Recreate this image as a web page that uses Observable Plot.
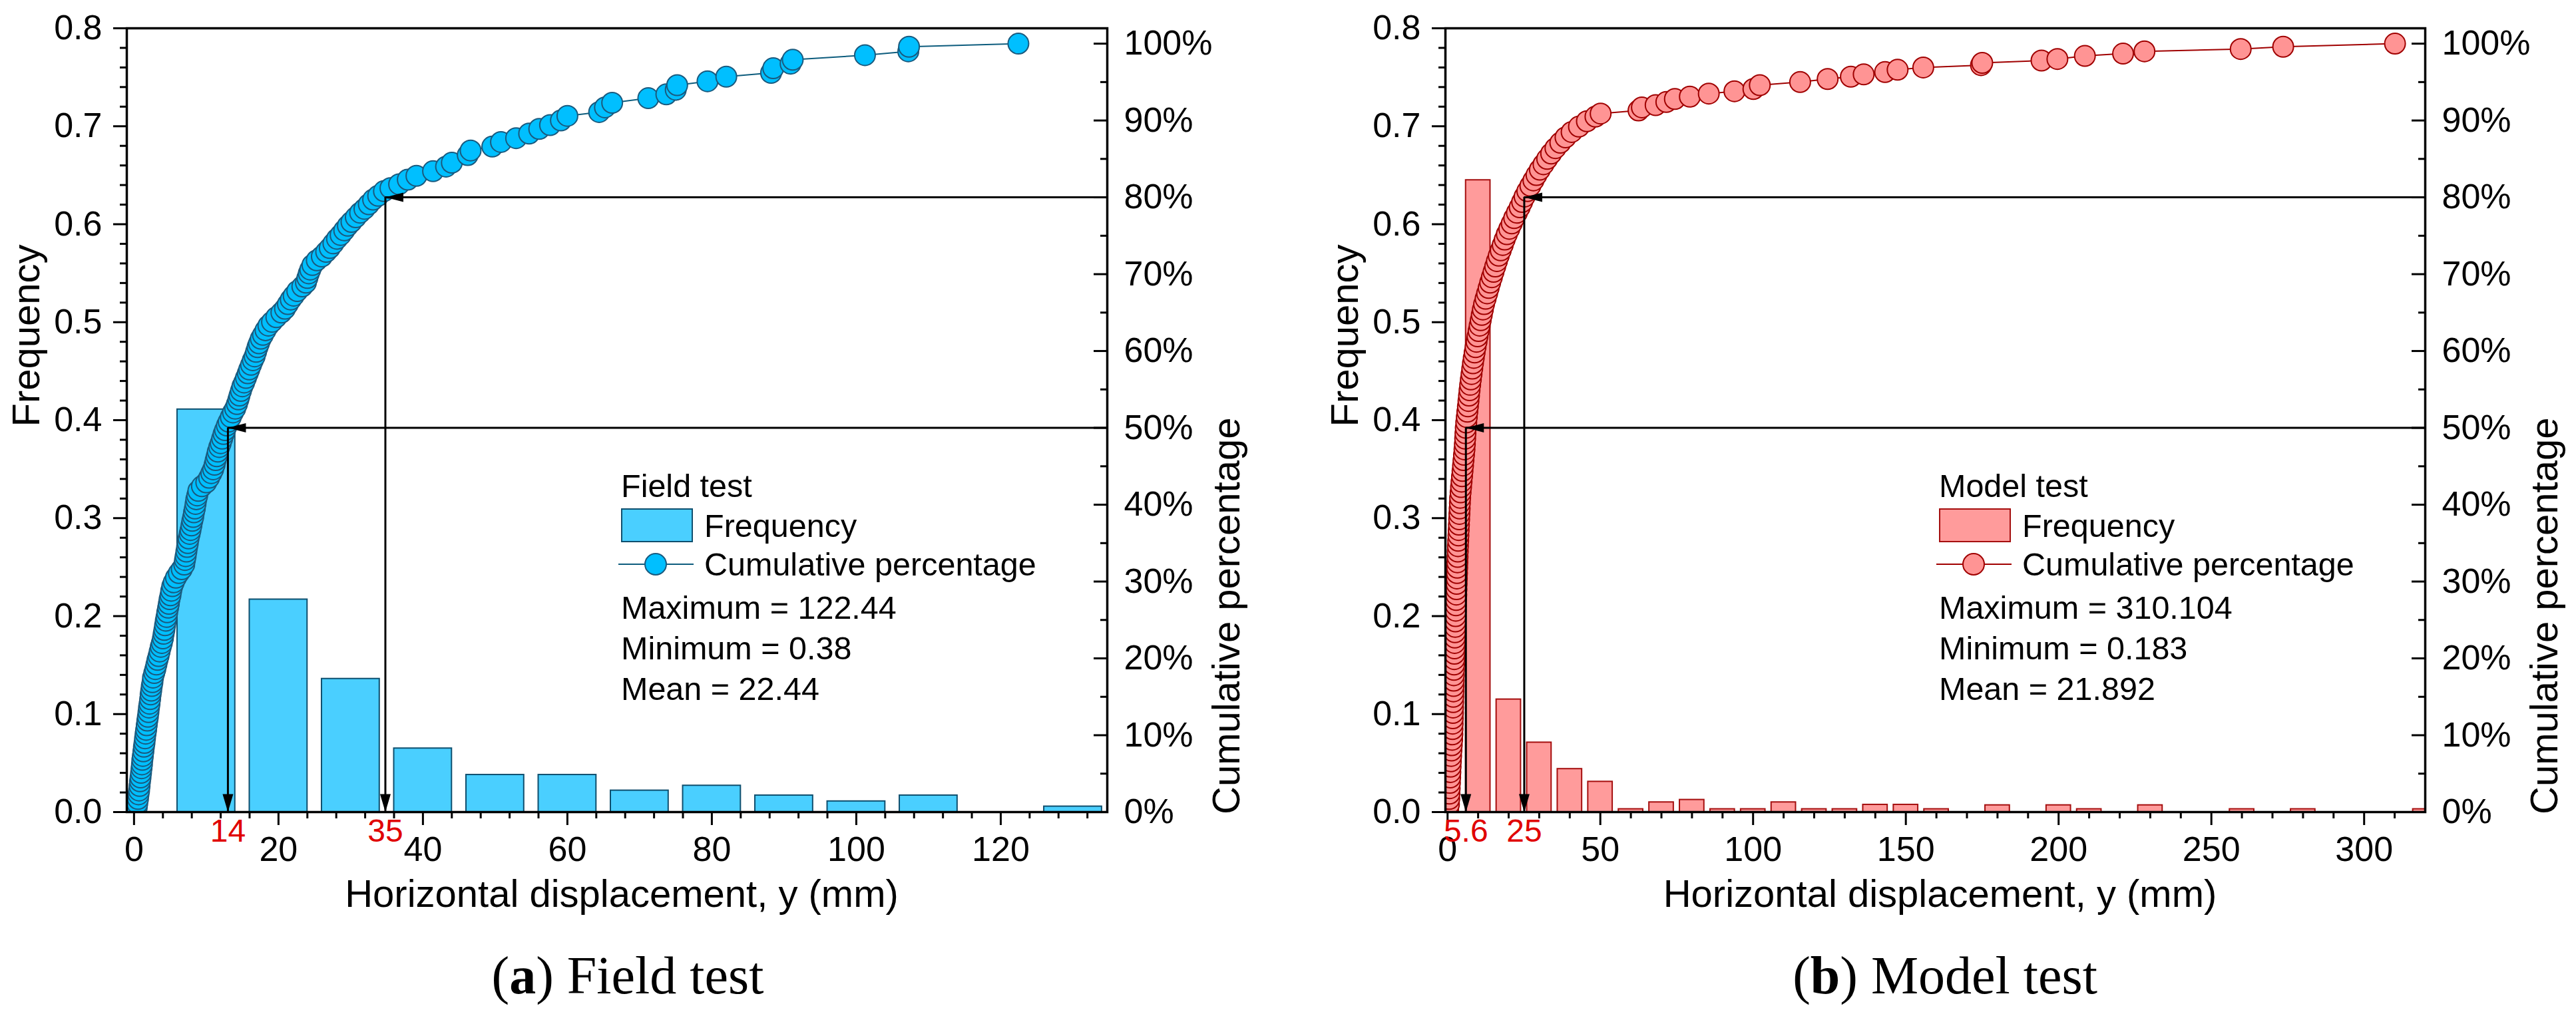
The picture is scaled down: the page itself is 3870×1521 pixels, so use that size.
<!DOCTYPE html>
<html><head><meta charset="utf-8">
<script src="https://cdn.jsdelivr.net/npm/d3@7"></script>
<script src="https://cdn.jsdelivr.net/npm/@observablehq/plot@0.6"></script>
<style>
body{margin:0;background:#fff;}
#root{position:relative;width:3870px;height:1521px;overflow:hidden;font-family:"Liberation Sans",Arial,Helvetica,sans-serif;background:#fff;}
.layer{position:absolute;top:0;}
.layer svg{max-width:none;display:block;}
.lg{position:absolute;font-size:48.5px;line-height:48.5px;white-space:nowrap;color:#000;}
.cap{position:absolute;font-family:"Liberation Serif","Times New Roman",serif;font-size:80px;line-height:80px;white-space:nowrap;transform:translateX(-50%);color:#000;}
</style></head><body><div id="root"></div>
<script>
// ---------------- data ----------------
const freqTicks = [0, 0.1, 0.2, 0.3, 0.4, 0.5, 0.6, 0.7, 0.8];
const pctTicks = [0, 10, 20, 30, 40, 50, 60, 70, 80, 90, 100];
const fieldXTicks = [0, 20, 40, 60, 80, 100, 120];
const modelXTicks = [0, 50, 100, 150, 200, 250, 300];

// (a) Field test
const fieldBinCenter = [10, 20, 30, 40, 50, 60, 70, 80, 90, 100, 110, 130];
const fieldFrequency = [0.411, 0.217, 0.136, 0.065, 0.038, 0.038, 0.022, 0.027, 0.017, 0.011, 0.017, 0.0057];
const fieldDisp = [0.38,0.45,0.55,0.62,0.70,0.77,0.83,0.90,0.97,1.04,
1.10,1.15,1.22,1.30,1.37,1.45,1.52,1.60,1.68,1.76,
1.84,1.92,2.00,2.07,2.15,2.23,2.30,2.38,2.46,2.55,
2.63,2.80,2.95,3.10,3.25,3.40,3.55,3.70,3.85,4.00,
4.10,4.20,4.30,4.40,4.50,4.60,4.72,4.82,4.92,5.05,
5.15,5.30,5.50,5.80,6.20,6.60,6.95,7.05,7.15,7.25,
7.35,7.45,7.55,7.70,7.82,7.95,8.07,8.20,8.30,8.42,
8.52,8.62,8.75,8.90,9.40,10.00,10.40,10.70,10.95,11.15,
11.30,11.45,11.60,11.80,12.00,12.20,12.40,12.60,12.85,13.10,
13.40,13.70,14.00,14.25,14.45,14.60,14.80,15.00,15.25,15.50,
15.75,15.95,16.20,16.45,16.70,16.90,17.10,17.30,17.55,17.85,
18.20,18.60,19.10,19.70,20.40,20.90,21.30,21.70,22.10,22.60,
23.30,23.80,24.00,24.20,24.40,24.70,25.30,26.00,26.60,27.10,
27.60,28.10,28.60,29.10,29.60,30.10,30.70,31.30,31.90,32.50,
33.10,33.80,34.60,
35.5,36.7,37.9,39.1,41.4,43.2,44.0,46.2,46.6,49.6,
50.8,52.9,54.7,56.1,57.6,59.1,60.0,64.4,65.2,66.2,
71.2,73.7,75.0,75.2,79.4,82.0,88.2,88.5,90.9,91.2,
101.2,107.2,107.3,122.44];
const fieldCumPct = [0.6,1.1,1.7,2.3,2.8,3.4,4.0,4.5,5.1,5.7,
6.2,6.8,7.3,7.9,8.5,9.0,9.6,10.2,10.7,11.3,
11.9,12.4,13.0,13.6,14.1,14.7,15.3,15.8,16.4,16.9,
17.5,18.1,18.6,19.2,19.8,20.3,20.9,21.5,22.0,22.6,
23.2,23.7,24.3,24.9,25.4,26.0,26.6,27.1,27.7,28.2,
28.8,29.4,29.9,30.5,31.1,31.6,32.2,32.8,33.3,33.9,
34.5,35.0,35.6,36.2,36.7,37.3,37.9,38.4,39.0,39.5,
40.1,40.7,41.2,41.8,42.4,42.9,43.5,44.1,44.6,45.2,
45.8,46.3,46.9,47.5,48.0,48.6,49.2,49.7,50.3,50.8,
51.4,52.0,52.5,53.1,53.7,54.2,54.8,55.4,55.9,56.5,
57.1,57.6,58.2,58.8,59.3,59.9,60.5,61.0,61.6,62.1,
62.7,63.3,63.8,64.4,65.0,65.5,66.1,66.7,67.2,67.8,
68.4,68.9,69.5,70.1,70.6,71.2,71.8,72.3,72.9,73.4,
74.0,74.6,75.1,75.7,76.3,76.8,77.4,78.0,78.5,79.1,
79.7,80.2,80.8,
81.2,81.7,82.3,82.8,83.4,84.0,84.5,85.5,86.1,86.6,
87.2,87.7,88.3,88.9,89.4,90.0,90.6,91.1,91.7,92.3,
92.9,93.4,94.0,94.6,95.1,95.7,96.2,96.8,97.4,97.9,
98.5,99.0,99.6,100];
const fieldArrowX = [13.0, 34.8];
const fieldArrowPct = [50, 80];
const fieldArrowLabel = ["14", "35"];
const fieldStats = ["Maximum = 122.44", "Minimum = 0.38", "Mean = 22.44"];

// (b) Model test
const modelBinCenter = [10,20,30,40,50,60,70,80,90,100,110,120,130,140,150,160,180,200,210,230,260,280,320];
const modelFrequency = [0.645,0.115,0.071,0.044,0.031,0.003,0.010,0.0125,0.003,0.003,0.010,0.003,0.003,0.0075,0.0075,0.003,0.007,0.007,0.003,0.007,0.003,0.003,0.003];
const modelDisp = [0.18,0.45,0.55,0.62,0.70,0.78,0.85,0.92,1.00,1.08,
1.17,1.27,1.38,1.50,1.58,1.63,1.68,1.72,1.76,1.80,
1.84,1.88,1.92,1.96,2.00,2.04,2.09,2.14,2.19,2.23,
2.27,2.31,2.37,2.43,2.50,2.56,2.62,2.68,2.74,2.80,
2.86,2.92,2.98,3.04,3.10,3.16,3.22,3.28,3.34,3.40,
3.48,3.56,3.64,3.72,3.80,3.88,3.96,4.04,4.12,4.27,
4.42,4.58,4.74,4.90,5.06,5.22,5.38,5.54,5.66,5.76,
5.86,5.96,6.12,6.30,6.48,6.66,6.84,7.02,7.20,7.40,
7.62,7.85,8.08,8.32,8.58,8.86,9.16,9.48,9.80,10.15,
10.50,10.85,11.20,11.55,11.95,12.45,12.95,13.45,13.95,14.50,
15.05,15.60,16.15,16.75,17.40,18.05,18.70,19.40,20.20,21.00,
21.80,22.70,23.60,24.40,25.20,26.10,27.10,28.10,29.10,30.20,
31.40,32.60,33.90,35.30,36.90,38.60,40.60,43.00,45.60,48.40,
50.1,62.5,63.6,68.1,71.6,74.4,79.3,85.5,93.9,100.1,
102.2,115.4,124.4,132.0,136.2,143.2,147.3,155.7,174.6,175.0,
194.4,199.6,208.6,221.1,228.1,259.6,273.5,310.104];
const modelCumPct = [0.3,1.0,1.7,2.4,3.1,3.8,4.5,5.2,5.9,6.6,
7.3,8.0,8.7,9.4,10.1,10.8,11.5,12.2,12.9,13.6,
14.3,15.0,15.7,16.4,17.1,17.8,18.5,19.2,19.9,20.6,
21.3,22.0,22.7,23.4,24.1,24.8,25.5,26.2,26.9,27.6,
28.3,29.0,29.7,30.4,31.1,31.8,32.5,33.2,33.9,34.6,
35.3,36.0,36.7,37.4,38.1,38.8,39.5,40.2,40.9,41.6,
42.3,43.0,43.7,44.4,45.1,45.8,46.5,47.2,47.9,48.6,
49.3,50.0,50.7,51.4,52.1,52.8,53.5,54.2,54.9,55.6,
56.3,57.0,57.7,58.4,59.1,59.8,60.5,61.2,61.9,62.6,
63.3,64.0,64.7,65.4,66.1,66.8,67.5,68.2,68.9,69.6,
70.3,71.0,71.7,72.4,73.1,73.8,74.5,75.2,75.9,76.6,
77.3,78.0,78.7,79.4,80.1,80.8,81.5,82.2,82.9,83.6,
84.3,85.0,85.7,86.4,87.1,87.8,88.5,89.2,89.9,90.5,
90.9,91.3,91.7,92.0,92.4,92.8,93.1,93.5,93.8,94.1,
94.6,95.0,95.4,95.7,96.0,96.3,96.6,96.9,97.2,97.5,
97.8,98.0,98.4,98.7,99.0,99.3,99.6,100];
const modelArrowX = [6.0, 25.1];
const modelArrowPct = [50, 80];
const modelArrowLabel = ["5.6", "25"];
const modelStats = ["Maximum = 310.104", "Minimum = 0.183", "Mean = 21.892"];

// ---------------- drawing ----------------
const FONT = '"Liberation Sans", Arial, Helvetica, sans-serif';
const root = document.getElementById("root");

const headDown = {draw(c) { c.moveTo(0, 0); c.lineTo(8, -27); c.lineTo(-8, -27); c.closePath(); }};
const headLeft = {draw(c) { c.moveTo(0, 0); c.lineTo(27, -7); c.lineTo(27, 7); c.closePath(); }};

const freqMinor = d3.range(1, 40).map(i => i * 0.02).filter((_, i) => (i + 1) % 5 !== 0);
const pctMinor = [5, 15, 25, 35, 45, 55, 65, 75, 85, 95];

function panel(cfg) {
  const bars = cfg.binCenter.map((c, i) => ({c, f: cfg.freq[i]}));
  const cum = cfg.disp.map((u, i) => ({u, p: cfg.cum[i]}));
  const arrows = cfg.arrowX.map((x, i) => ({x, p: cfg.arrowPct[i], label: cfg.arrowLabel[i]}));
  const W = cfg.width, MR = cfg.marginRight;
  const plotW = W - 190 - MR;
  const common = {width: W, height: 1400, marginLeft: 190, marginRight: MR, marginTop: 42, marginBottom: 180};
  const style = {fontFamily: FONT, fontSize: "52px", background: "transparent", maxWidth: "none", overflow: "visible"};

  const p1 = Plot.plot({
    ...common, style,
    x: {domain: cfg.xDomain},
    y: {domain: [0, 0.8]},
    marks: [
      Plot.rect(bars, {x1: d => d.c - 4, x2: d => d.c + 4, y1: 0, y2: "f", fill: cfg.barFill, stroke: cfg.barStroke, strokeWidth: 2, clip: true}),
      Plot.axisY({anchor: "left", ticks: freqTicks, tickSize: 20, tickPadding: 17, tickFormat: d3.format(".1f"), strokeWidth: 3, label: null}),
      Plot.axisY(freqMinor, {anchor: "left", tickSize: 10, tickFormat: () => "", strokeWidth: 3, label: null}),
      Plot.axisX({anchor: "bottom", ticks: cfg.xTicks, tickSize: 20, tickPadding: 17, tickFormat: d => String(d), strokeWidth: 3, label: null}),
      Plot.axisX(cfg.xMinor, {anchor: "bottom", tickSize: 10, tickFormat: () => "", strokeWidth: 3, label: null}),
      Plot.text(["Horizontal displacement, y (mm)"], {text: d => d, frameAnchor: "bottom", dy: 142, dx: 7, lineAnchor: "bottom", fontSize: 58}),
      Plot.text(["Frequency"], {text: d => d, frameAnchor: "left", dx: -150, dy: 10, rotate: -90, lineAnchor: "middle", fontSize: 58})
    ]
  });

  const p2 = Plot.plot({
    ...common, style,
    x: {domain: cfg.xDomain, axis: null},
    y: {domain: [0, 102]},
    marks: [
      Plot.line(cum, {x: "u", y: "p", stroke: cfg.lineColor, strokeWidth: 2, clip: true}),
      Plot.dot(cum, {x: "u", y: "p", r: 15.5, fill: cfg.dotFill, stroke: cfg.dotStroke, strokeWidth: 2, clip: true}),
      Plot.ruleY(arrows, {y: "p", x1: "x", x2: () => cfg.xDomain[1], stroke: "black", strokeWidth: 3}),
      Plot.ruleX(arrows, {x: "x", y1: 0, y2: "p", stroke: "black", strokeWidth: 3}),
      Plot.dot(arrows, {x: "x", y: "p", symbol: headLeft, fill: "black", stroke: "none"}),
      Plot.dot(arrows, {x: "x", y: () => 0, symbol: headDown, fill: "black", stroke: "none"}),
      Plot.text(arrows, {x: "x", y: () => 0, text: "label", dy: 29, lineAnchor: "middle", fill: "#e00000", fontSize: 48}),
      Plot.tickY(pctTicks, {y: d => d, insetLeft: plotW - 20, stroke: "black", strokeWidth: 3}),
      Plot.tickY(pctMinor, {y: d => d, insetLeft: plotW - 10, stroke: "black", strokeWidth: 3}),
      Plot.axisY({anchor: "right", ticks: pctTicks, tickSize: 0, tickPadding: 25, tickFormat: d => d + "%", label: null}),
      Plot.text(["Cumulative percentage"], {text: d => d, frameAnchor: "right", dx: 180, dy: -4, rotate: -90, lineAnchor: "middle", fontSize: 58}),
      Plot.frame({stroke: "black", strokeWidth: 3.5})
    ]
  });

  for (const svg of [p1, p2]) {
    const div = document.createElement("div");
    div.className = "layer";
    div.style.left = cfg.left + "px";
    div.appendChild(svg);
    root.appendChild(div);
  }

  // legend (inside the plot area)
  const L = cfg.legendLeft;
  const addText = (txt, left, cy) => {
    const d = document.createElement("div");
    d.className = "lg";
    d.textContent = txt;
    d.style.left = left + "px";
    d.style.top = (cy - 23.7) + "px";
    root.appendChild(d);
  };
  addText(cfg.legendTitle, L, 730);
  const sw = document.createElement("div");
  Object.assign(sw.style, {position: "absolute", left: L + "px", top: "764px", width: "108px", height: "51px",
    background: cfg.barFill, border: "2px solid " + cfg.barStroke, boxSizing: "border-box"});
  root.appendChild(sw);
  addText("Frequency", L + 125, 789.5);
  const ns = "http://www.w3.org/2000/svg";
  const sym = document.createElementNS(ns, "svg");
  sym.setAttribute("width", "114"); sym.setAttribute("height", "40");
  Object.assign(sym.style, {position: "absolute", left: (L - 4) + "px", top: "827.5px"});
  sym.innerHTML = `<line x1="0" y1="20" x2="113" y2="20" stroke="${cfg.lineColor}" stroke-width="2"/>` +
    `<circle cx="56" cy="20" r="16" fill="${cfg.dotFill}" stroke="${cfg.dotStroke}" stroke-width="2"/>`;
  root.appendChild(sym);
  addText("Cumulative percentage", L + 125, 848);
  addText(cfg.stats[0], L, 913);
  addText(cfg.stats[1], L, 973.6);
  addText(cfg.stats[2], L, 1035);

  // caption below the chart
  const cap = document.createElement("div");
  cap.className = "cap";
  cap.innerHTML = `(<b>${cfg.capLetter}</b>) ${cfg.capText}`;
  cap.style.left = cfg.capCenter + "px";
  cap.style.top = "1426px";
  root.appendChild(cap);
}

panel({
  left: 0, width: 1981, marginRight: 318,
  xDomain: [-1, 134.75], xTicks: fieldXTicks,
  xMinor: d3.range(1, 34).map(i => i * 4).filter(v => v % 20 !== 0),
  binCenter: fieldBinCenter, freq: fieldFrequency,
  disp: fieldDisp, cum: fieldCumPct,
  arrowX: fieldArrowX, arrowPct: fieldArrowPct, arrowLabel: fieldArrowLabel,
  barFill: "#4ACFFF", barStroke: "#0F4F6E",
  dotFill: "#00BFFF", dotStroke: "#1A5A7E", lineColor: "#0D5C7D",
  legendLeft: 933, legendTitle: "Field test", stats: fieldStats,
  capLetter: "a", capText: "Field test", capCenter: 943
});

panel({
  left: 1981, width: 1889, marginRight: 227,
  xDomain: [-0.7, 320], xTicks: modelXTicks,
  xMinor: d3.range(1, 32).map(i => i * 10).filter(v => v % 50 !== 0),
  binCenter: modelBinCenter, freq: modelFrequency,
  disp: modelDisp, cum: modelCumPct,
  arrowX: modelArrowX, arrowPct: modelArrowPct, arrowLabel: modelArrowLabel,
  barFill: "#FF9B9B", barStroke: "#A50F0F",
  dotFill: "#FF9494", dotStroke: "#A00000", lineColor: "#A00000",
  legendLeft: 2913, legendTitle: "Model test", stats: modelStats,
  capLetter: "b", capText: "Model test", capCenter: 2922
});
</script></body></html>
